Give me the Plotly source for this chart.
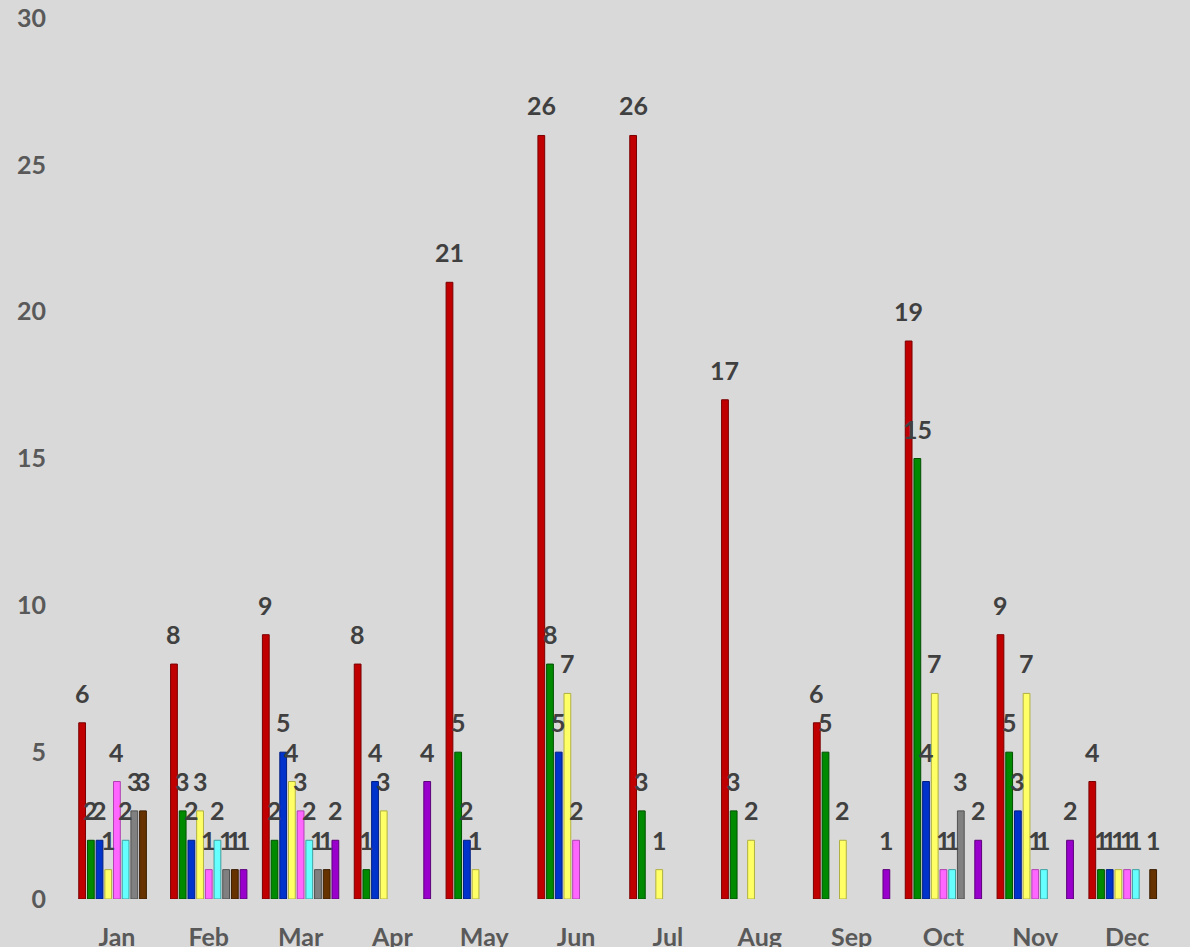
import plotly.graph_objects as go

months = ["Jan", "Feb", "Mar", "Apr", "May", "Jun", "Jul", "Aug", "Sep", "Oct", "Nov", "Dec"]

# nine series (colour order as drawn within each month group)
s_red     = [6, 8, 9, 8, 21, 26, 26, 17, 6, 19, 9, 4]
s_green   = [2, 3, 2, 1, 5, 8, 3, 3, 5, 15, 5, 1]
s_blue    = [2, 2, 5, 4, 2, 5, 0, 0, 0, 4, 3, 1]
s_yellow  = [1, 3, 4, 3, 1, 7, 1, 2, 2, 7, 7, 1]
s_magenta = [4, 1, 3, 0, 0, 2, 0, 0, 0, 1, 1, 1]
s_cyan    = [2, 2, 2, 0, 0, 0, 0, 0, 0, 1, 1, 1]
s_gray    = [3, 1, 1, 0, 0, 0, 0, 0, 0, 3, 0, 0]
s_brown   = [3, 1, 1, 0, 0, 0, 0, 0, 0, 0, 0, 1]
s_purple  = [0, 1, 2, 4, 0, 0, 0, 0, 1, 2, 2, 0]

series = [s_red, s_green, s_blue, s_yellow, s_magenta, s_cyan, s_gray, s_brown, s_purple]
names = ["Series 1", "Series 2", "Series 3", "Series 4", "Series 5",
         "Series 6", "Series 7", "Series 8", "Series 9"]
fills = ["#C00000", "#008A00", "#0033CC", "#FFFF66", "#FF66FF",
         "#66FFFF", "#808080", "#663300", "#9900CC"]
edges = ["#7A0000", "#005000", "#001E80", "#B0B040", "#B040B0",
         "#40A0A0", "#505050", "#3A1D00", "#5C007A"]

BARGAP = 0.148
GROUPGAP = 0.22
FONT = "Lato, 'Open Sans', sans-serif"
FSIZE = 25

fig = go.Figure()
for vals, nm, fc, ec in zip(series, names, fills, edges):
    fig.add_trace(go.Bar(
        x=months,
        y=[v if v else None for v in vals],
        name=nm,
        marker=dict(color=fc, line=dict(color=ec, width=1)),
        hoverinfo="x+y",
    ))

# data labels above each non-zero bar
n = len(series)
slot = (1 - BARGAP) / n
annotations = []
for i, vals in enumerate(series):
    for m, v in enumerate(vals):
        if not v:
            continue
        xpos = m - (1 - BARGAP) / 2 + (i + 0.5) * slot
        annotations.append(dict(
            x=xpos, y=v, xref="x", yref="y", text=str(v), showarrow=False,
            yanchor="bottom", xanchor="center", yshift=13,
            font=dict(family=FONT, size=FSIZE, color="#404040", weight="bold"),
        ))

fig.update_layout(
    width=1190, height=947,
    margin=dict(l=71, r=17, t=18, b=48, autoexpand=False),
    paper_bgcolor="#D9D9D9",
    plot_bgcolor="#D9D9D9",
    barmode="group",
    bargap=BARGAP,
    bargroupgap=GROUPGAP,
    showlegend=False,
    annotations=annotations,
    font=dict(family=FONT),
)
fig.update_xaxes(
    type="category", automargin=False,
    showgrid=False, zeroline=False, showline=False, ticks="",
    tickfont=dict(family=FONT, size=FSIZE, color="#595959", weight="bold"),
    ticklabelstandoff=21,
)
fig.update_yaxes(
    range=[0, 30], tickvals=[0, 5, 10, 15, 20, 25, 30], automargin=False,
    showgrid=False, zeroline=False, showline=False, ticks="",
    tickfont=dict(family=FONT, size=FSIZE, color="#595959", weight="bold"),
    ticklabelstandoff=24,
)

fig.write_html(
    "out.html",
    config={"displayModeBar": False},
    post_script="document.body.style.margin='0';document.body.style.overflow='hidden';",
)
